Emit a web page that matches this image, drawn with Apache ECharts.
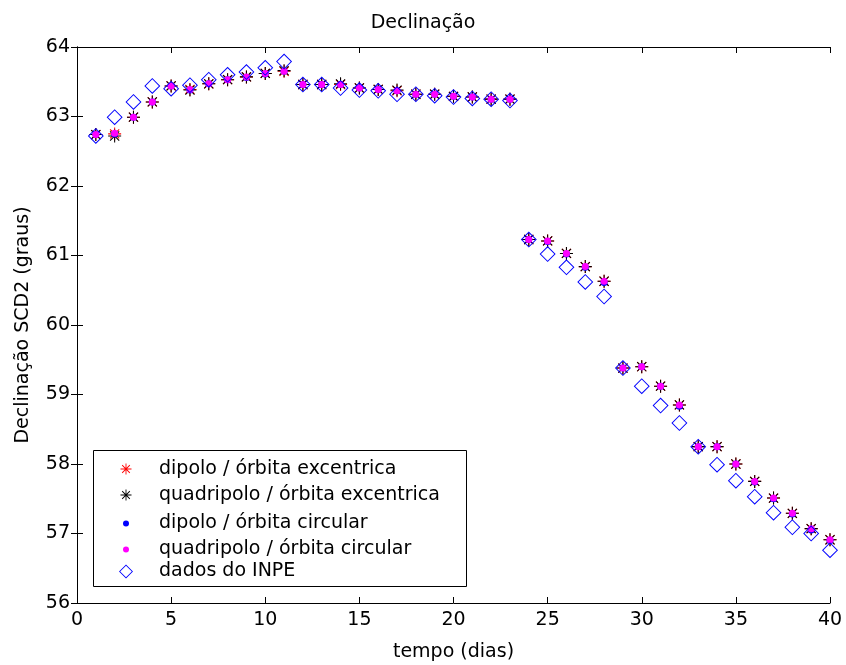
<!DOCTYPE html>
<html>
<head>
<meta charset="utf-8">
<script src="https://cdn.jsdelivr.net/npm/echarts@6/dist/echarts.min.js"></script>
<style>html,body{margin:0;padding:0;background:#fff}#c{width:846px;height:665px}</style>
</head>
<body>
<div id="c"></div>
<script>
const days = [1,2,3,4,5,6,7,8,9,10,11,12,13,14,15,16,17,18,19,20,21,22,23,24,25,26,27,28,29,30,31,32,33,34,35,36,37,38,39,40];
const dipoloExc = [62.74,62.75,62.99,63.21,63.44,63.39,63.47,63.53,63.57,63.62,63.65,63.46,63.46,63.46,63.41,63.39,63.37,63.32,63.32,63.29,63.28,63.25,63.25,61.23,61.21,61.03,60.84,60.63,59.38,59.40,59.12,58.85,58.25,58.25,58.00,57.75,57.51,57.29,57.07,56.91];
const quadExc = [62.74,62.72,62.99,63.21,63.44,63.38,63.47,63.53,63.57,63.62,63.66,63.46,63.46,63.47,63.41,63.39,63.38,63.32,63.32,63.29,63.28,63.25,63.25,61.23,61.21,61.03,60.84,60.63,59.38,59.40,59.12,58.85,58.25,58.25,58.00,57.75,57.51,57.29,57.07,56.91];
const dipoloCirc = [62.74,62.75,62.99,63.21,63.44,63.38,63.47,63.53,63.56,63.61,63.65,63.46,63.46,63.46,63.41,63.39,63.37,63.32,63.32,63.29,63.28,63.25,63.25,61.23,61.20,61.02,60.83,60.61,59.38,59.40,59.12,58.83,58.25,58.25,58.00,57.74,57.50,57.28,57.05,56.90];
const quadCirc = [62.74,62.76,62.99,63.21,63.44,63.39,63.47,63.53,63.57,63.62,63.65,63.46,63.46,63.46,63.41,63.39,63.37,63.32,63.32,63.29,63.28,63.25,63.25,61.23,61.21,61.03,60.84,60.63,59.38,59.40,59.12,58.85,58.25,58.25,58.00,57.75,57.51,57.29,57.07,56.91];
const inpe = [62.72,62.99,63.21,63.44,63.40,63.45,63.53,63.60,63.64,63.70,63.79,63.46,63.46,63.41,63.38,63.37,63.32,63.32,63.30,63.28,63.26,63.25,63.23,61.23,61.02,60.83,60.62,60.41,59.38,59.12,58.84,58.59,58.25,57.99,57.76,57.53,57.30,57.09,57.00,56.76];
const seriesNames = ['dipolo / órbita excentrica','quadripolo / órbita excentrica','dipolo / órbita circular','quadripolo / órbita circular','dados do INPE'];
const xTicks = {min:0, max:40, interval:5};
const yTicks = {min:56, max:64, interval:1};

const FONT = 'DejaVu Sans';
const star = 'path://M-0.08,-1L0.08,-1L0.08,1L-0.08,1Z' +
  'M-1,-0.08L1,-0.08L1,0.08L-1,0.08Z' +
  'M-0.757,-0.643L-0.643,-0.757L0.757,0.643L0.643,0.757Z' +
  'M-0.643,0.757L-0.757,0.643L0.643,-0.757L0.757,-0.643Z';
const diamondRing = 'path://M0,-1L1,0L0,1L-1,0Z' +
  'M0,-0.83L-0.83,0L0,0.83L0.83,0Z';

function pts(arr){ return days.map((d,i)=>[d, arr[i]]); }

const chart = echarts.init(document.getElementById('c'), null, {renderer:'canvas'});
const axisCommon = {
  axisLine:{show:true, lineStyle:{color:'#000', width:1}},
  axisTick:{show:true, inside:true, length:6, lineStyle:{color:'#000'}},
  splitLine:{show:false}
};
function legendRow(name, top, size){
  return {
    orient:'vertical', top: top - size/2 - 1, left: 126 - size/2,
    itemWidth:size, itemHeight:size, padding:0, selectedMode:false, z:60,
    data:[name],
    textStyle:{fontFamily:FONT, fontSize:19, color:'#000', lineHeight:size,
      padding:[0,0,0, 159 - (126 + size/2 + 5)]}
  };
}
chart.setOption({
  animation:false,
  backgroundColor:'#fff',
  title:{text:'Declinação', left:'center', top:9,
    textStyle:{fontFamily:FONT, fontSize:19, fontWeight:'normal', color:'#000'}},
  grid:{left:77, right:16, top:47, bottom:62, containLabel:false, outerBoundsMode:'none'},
  xAxis:[
    Object.assign({type:'value', position:'bottom', min:xTicks.min, max:xTicks.max, interval:xTicks.interval,
      name:'tempo (dias)', nameLocation:'middle', nameGap:40,
      nameTextStyle:{fontFamily:FONT, fontSize:19, color:'#000'},
      axisLabel:{fontFamily:FONT, fontSize:19, color:'#000', margin:8}}, axisCommon),
    Object.assign({type:'value', position:'top', min:xTicks.min, max:xTicks.max, interval:xTicks.interval,
      axisLabel:{show:false}}, axisCommon)
  ],
  yAxis:[
    Object.assign({type:'value', position:'left', min:yTicks.min, max:yTicks.max, interval:yTicks.interval,
      name:'Declinação SCD2 (graus)', nameLocation:'middle', nameGap:44,
      nameTextStyle:{fontFamily:FONT, fontSize:19, color:'#000'},
      axisLabel:{fontFamily:FONT, fontSize:19, color:'#000', margin:7}}, axisCommon),
    Object.assign({type:'value', position:'right', min:yTicks.min, max:yTicks.max, interval:yTicks.interval,
      axisLabel:{show:false}}, axisCommon)
  ],
  graphic:[{type:'rect', left:93, top:450, shape:{width:373, height:136},
    style:{fill:'#fff', stroke:'#000', lineWidth:1}, z:50}],
  legend:[
    legendRow(seriesNames[0], 466, 11),
    legendRow(seriesNames[1], 492, 11),
    legendRow(seriesNames[2], 518, 6),
    legendRow(seriesNames[3], 544, 6),
    legendRow(seriesNames[4], 570, 14)
  ],
  series:[
    {name:seriesNames[0], type:'scatter', symbol:star, symbolSize:13, data:pts(dipoloExc), z:2,
      itemStyle:{color:'#ff0000', opacity:1}},
    {name:seriesNames[1], type:'scatter', symbol:star, symbolSize:13, data:pts(quadExc), z:3,
      itemStyle:{color:'#000000', opacity:1}},
    {name:seriesNames[2], type:'scatter', symbol:'circle', symbolSize:7, data:pts(dipoloCirc), z:4,
      itemStyle:{color:'#0000ff', opacity:1}},
    {name:seriesNames[3], type:'scatter', symbol:'circle', symbolSize:7, data:pts(quadCirc), z:5,
      itemStyle:{color:'#ff00ff', opacity:1}},
    {name:seriesNames[4], type:'scatter', symbol:diamondRing, symbolSize:16, data:pts(inpe), z:6,
      itemStyle:{color:'#0000ff', opacity:1}}
  ]
});
</script>
</body>
</html>
